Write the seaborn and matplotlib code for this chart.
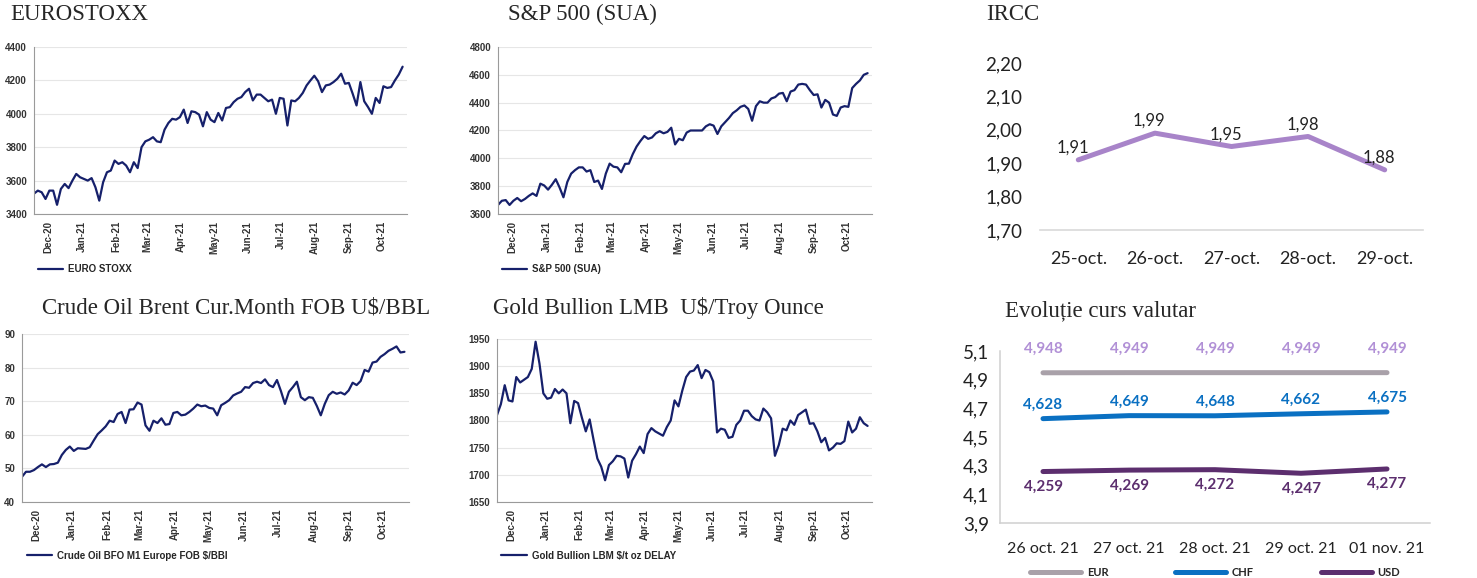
import pandas as pd
import matplotlib
matplotlib.use('Agg')
import matplotlib.pyplot as plt
import matplotlib.dates as mdates
from matplotlib.ticker import FuncFormatter, FixedLocator
import seaborn as sns

sns.set_style('white')
plt.rcParams['font.family'] = ['Liberation Sans', 'DejaVu Sans']

# serii zilnice (aprox. de doua ori pe saptamana)
dates = pd.date_range('2020-11-18', periods=97, freq='84h')

eurostoxx = [3522, 3540, 3530, 3490, 3540, 3540, 3455, 3550, 3580, 3555,
             3600, 3640, 3620, 3610, 3600, 3615, 3560, 3480, 3590, 3650,
             3660, 3720, 3700, 3710, 3690, 3650, 3710, 3675, 3800, 3835,
             3845, 3860, 3835, 3830, 3905, 3945, 3970, 3965, 3980, 4025,
             3945, 4015, 4010, 3995, 3925, 4010, 3965, 3950, 4005, 3960,
             4035, 4040, 4070, 4090, 4100, 4130, 4150, 4080, 4115, 4115,
             4095, 4075, 4085, 4000, 4095, 4090, 3930, 4080, 4075, 4095,
             4125, 4170, 4200, 4228, 4195, 4130, 4170, 4175, 4190, 4210,
             4240, 4180, 4185, 4120, 4050, 4190, 4075, 4040, 4000, 4095,
             4065, 4165, 4155, 4160, 4200, 4235, 4282]

sp500 = [3665, 3695, 3700, 3665, 3695, 3715, 3692, 3708, 3730, 3748,
         3730, 3818, 3805, 3775, 3810, 3850, 3790, 3720, 3830, 3890,
         3915, 3935, 3935, 3905, 3915, 3830, 3840, 3780, 3890, 3962,
         3940, 3935, 3900, 3960, 3962, 4030, 4085, 4125, 4160, 4140,
         4150, 4180, 4195, 4180, 4190, 4220, 4100, 4140, 4130, 4185,
         4200, 4200, 4200, 4200, 4230, 4245, 4235, 4175, 4230, 4260,
         4290, 4325, 4345, 4370, 4380, 4355, 4270, 4375, 4410, 4400,
         4400, 4430, 4440, 4465, 4470, 4410, 4480, 4490, 4530, 4535,
         4530, 4490, 4455, 4460, 4365, 4420, 4400, 4315, 4305, 4365,
         4375, 4370, 4505, 4535, 4560, 4600, 4612]

brent = [47.5, 49.0, 49.0, 49.5, 50.4, 51.2, 50.4, 51.2, 51.3, 51.7,
         54.0, 55.5, 56.5, 55.2, 56.0, 55.9, 55.8, 56.3, 58.3, 60.2,
         61.3, 62.5, 64.2, 63.8, 66.2, 66.8, 63.5, 67.5, 67.6, 69.6,
         69.0, 62.8, 61.2, 64.2, 63.5, 64.9, 63.0, 63.2, 66.5, 66.8,
         65.8, 66.0, 66.8, 67.8, 69.0, 68.5, 68.7, 68.0, 67.8, 65.8,
         68.8, 69.5, 70.3, 71.7, 72.3, 72.8, 74.2, 74.0, 75.4, 75.8,
         75.4, 76.5, 74.8, 74.2, 76.3, 73.0, 69.2, 72.8, 74.2, 75.8,
         71.2, 70.3, 71.2, 71.0, 68.6, 65.8, 69.2, 71.8, 72.8, 72.2,
         72.6, 72.0, 73.2, 75.5, 74.8, 76.0, 79.3, 78.8, 81.5, 81.8,
         83.2, 84.0, 85.0, 85.6, 86.3, 84.5, 84.7]

gold = [1810, 1830, 1865, 1837, 1835, 1880, 1870, 1875, 1880, 1895,
        1945, 1905, 1850, 1840, 1842, 1858, 1850, 1857, 1850, 1795,
        1836, 1832, 1805, 1780, 1802, 1765, 1730, 1715, 1690, 1718,
        1725, 1735, 1734, 1730, 1695, 1726, 1738, 1752, 1740, 1775,
        1786, 1780, 1776, 1772, 1788, 1800, 1837, 1826, 1855, 1880,
        1890, 1892, 1902, 1878, 1893, 1889, 1872, 1778, 1785, 1783,
        1768, 1770, 1792, 1800, 1818, 1818, 1808, 1802, 1800, 1822,
        1815, 1804, 1735, 1755, 1785, 1782, 1800, 1792, 1810, 1815,
        1820, 1794, 1795, 1780, 1760, 1768, 1745, 1750, 1758, 1757,
        1762, 1798, 1778, 1785, 1806, 1795, 1790]

ircc_days = ['25-oct.', '26-oct.', '27-oct.', '28-oct.', '29-oct.']
ircc_values = [1.91, 1.99, 1.95, 1.98, 1.88]
ircc_ticks = [1.70, 1.80, 1.90, 2.00, 2.10, 2.20]

fx_days = ['26 oct. 21', '27 oct. 21', '28 oct. 21', '29 oct. 21', '01 nov. 21']
fx_eur = [4.948, 4.949, 4.949, 4.949, 4.949]
fx_chf = [4.628, 4.649, 4.648, 4.662, 4.675]
fx_usd = [4.259, 4.269, 4.272, 4.247, 4.277]
fx_ticks = [3.9, 4.1, 4.3, 4.5, 4.7, 4.9, 5.1]

NAVY = '#16206b'
W, H = 1477, 578
SERIF = ['Liberation Serif', 'DejaVu Serif']
CAL = ['Lato', 'DejaVu Sans']


def box(l, t, r, b):
    return [l / W, 1 - b / H, (r - l) / W, (b - t) / H]


fig = plt.figure(figsize=(W / 100, H / 100), dpi=100)


def market_panel(rect, values, label, yticks, legend_xy):
    ax = fig.add_axes(rect)
    df = pd.DataFrame({'Data': dates, 'Valoare': values})
    sns.lineplot(data=df, x='Data', y='Valoare', ax=ax, color=NAVY, lw=1.6, label=label)
    ax.set_ylim(yticks[0], yticks[-1])
    ax.set_yticks(yticks)
    ax.set_xlim(dates[0], dates[-1] + pd.Timedelta(days=4))
    ax.xaxis.set_major_locator(mdates.MonthLocator())
    ax.xaxis.set_major_formatter(mdates.DateFormatter('%b-%y'))
    ax.grid(axis='y', color='#e6e6e6', lw=0.8)
    ax.set_xlabel('')
    ax.set_ylabel('')
    for s in ['top', 'right']:
        ax.spines[s].set_visible(False)
    for s in ['left', 'bottom']:
        ax.spines[s].set_color('#9a9a9a')
        ax.spines[s].set_linewidth(0.8)
    ax.tick_params(axis='both', labelsize=7, colors='#9a9a9a', labelcolor='#333333',
                   length=3, width=0.6, pad=2)
    ax.tick_params(axis='x', rotation=90)
    plt.setp(ax.get_xticklabels() + ax.get_yticklabels(), fontweight='bold')
    ax.legend(loc='center left', bbox_to_anchor=legend_xy, frameon=False,
              prop={'weight': 'bold', 'size': 7}, handlelength=2.6,
              borderaxespad=0, borderpad=0, handletextpad=0.5)
    return ax


market_panel(box(34, 47, 407, 214), eurostoxx, 'EURO STOXX',
             [3400, 3600, 3800, 4000, 4200, 4400], (0.01, -0.33))
market_panel(box(498, 47, 872, 214), sp500, 'S&P 500 (SUA)',
             [3600, 3800, 4000, 4200, 4400, 4600, 4800], (0.01, -0.33))
market_panel(box(22, 334, 409, 502), brent, 'Crude Oil BFO M1 Europe FOB $/BBl',
             [40, 50, 60, 70, 80, 90], (0.013, -0.32))
market_panel(box(497, 339, 872, 502), gold, 'Gold Bullion LBM $/t oz DELAY',
             [1650, 1700, 1750, 1800, 1850, 1900, 1950], (0.012, -0.33))

# titluri
titles = [('EUROSTOXX', 10, 14), ('S&P 500 (SUA)', 508, 14), ('IRCC', 986, 14),
          ('Crude Oil Brent Cur.Month FOB U$/BBL', 42, 308),
          ('Gold Bullion LMB  U$/Troy Ounce', 493, 308),
          ('Evoluție curs valutar', 1005, 311)]
for txt, x, y in titles:
    fig.text(x / W, 1 - y / H, txt, family=SERIF, fontsize=16.5, ha='left', va='center')

comma = lambda nd: FuncFormatter(lambda v, p: f'{v:.{nd}f}'.replace('.', ','))

# IRCC
ax = fig.add_axes(box(1040, 63, 1423, 230))
df = pd.DataFrame({'Zi': ircc_days, 'IRCC': ircc_values})
sns.lineplot(data=df, x='Zi', y='IRCC', ax=ax, color='#a884c9', lw=3.6, sort=False)
ax.set_xlim(-0.5, 4.5)
ax.set_ylim(ircc_ticks[0], ircc_ticks[-1])
ax.set_yticks(ircc_ticks)
ax.yaxis.set_major_formatter(comma(2))
ax.xaxis.set_minor_locator(FixedLocator([-0.5, 0.5, 1.5, 2.5, 3.5, 4.5]))
for s in ['top', 'right', 'left']:
    ax.spines[s].set_visible(False)
ax.spines['bottom'].set_color('#d9d9d9')
ax.spines['bottom'].set_linewidth(1.2)
ax.tick_params(axis='x', which='major', length=0, pad=15, labelsize=13, labelcolor='#222222')
ax.tick_params(axis='x', which='minor', length=6, color='#d9d9d9', width=1.2)
ax.tick_params(axis='y', length=0, pad=13, labelsize=13.5, labelcolor='#222222')
plt.setp(ax.get_xticklabels() + ax.get_yticklabels(), family=CAL)
ax.set_xlabel('')
ax.set_ylabel('')
for i, v in enumerate(ircc_values):
    ax.annotate(f'{v:.2f}'.replace('.', ','), (i, v), xytext=(-4, 3),
                textcoords='offset points', ha='center', va='bottom',
                fontsize=12, family=CAL, color='#222222')

# curs valutar
ax = fig.add_axes(box(1000, 351, 1430, 523))
fx = pd.DataFrame({'Data': fx_days * 3,
                   'Curs': fx_eur + fx_chf + fx_usd,
                   'Valuta': ['EUR'] * 5 + ['CHF'] * 5 + ['USD'] * 5})
palette = {'EUR': '#a9a1a9', 'CHF': '#0a70c2', 'USD': '#5c2e6e'}
label_colors = {'EUR': '#b190d6', 'CHF': '#0a70c2', 'USD': '#5c2e6e'}
sns.lineplot(data=fx, x='Data', y='Curs', hue='Valuta', palette=palette,
             lw=3.6, sort=False, ax=ax)
ax.set_xlim(-0.5, 4.5)
ax.set_ylim(fx_ticks[0], fx_ticks[-1])
ax.set_yticks(fx_ticks)
ax.yaxis.set_major_formatter(comma(1))
ax.xaxis.set_minor_locator(FixedLocator([-0.5, 0.5, 1.5, 2.5, 3.5, 4.5]))
for s in ['top', 'right']:
    ax.spines[s].set_visible(False)
for s in ['left', 'bottom']:
    ax.spines[s].set_color('#d0d0d0')
    ax.spines[s].set_linewidth(1.1)
ax.tick_params(axis='x', which='major', length=0, pad=14, labelsize=11.5, labelcolor='#222222')
ax.tick_params(axis='x', which='minor', length=6, color='#d0d0d0', width=1.1)
ax.tick_params(axis='y', length=5, color='#d0d0d0', width=1.1, pad=3,
               labelsize=13.5, labelcolor='#222222')
plt.setp(ax.get_xticklabels() + ax.get_yticklabels(), family=CAL)
ax.set_xlabel('')
ax.set_ylabel('')
offsets = {'EUR': (0, 12, 'bottom'), 'CHF': (0, 5, 'bottom'), 'USD': (0, -6, 'top')}
for cur, vals in [('EUR', fx_eur), ('CHF', fx_chf), ('USD', fx_usd)]:
    dx, dy, va = offsets[cur]
    for i, v in enumerate(vals):
        ax.annotate(f'{v:.3f}'.replace('.', ','), (i, v), xytext=(dx, dy),
                    textcoords='offset points', ha='center', va=va,
                    fontsize=11, fontweight='bold', family=CAL, color=label_colors[cur])
ax.legend(ncol=3, loc='center', bbox_to_anchor=(0.5, -0.285), frameon=False,
          prop={'weight': 'bold', 'size': 8, 'family': CAL}, handlelength=4.6,
          columnspacing=6, handletextpad=0.5, borderaxespad=0, borderpad=0)

fig.savefig('out.png', dpi=100)
